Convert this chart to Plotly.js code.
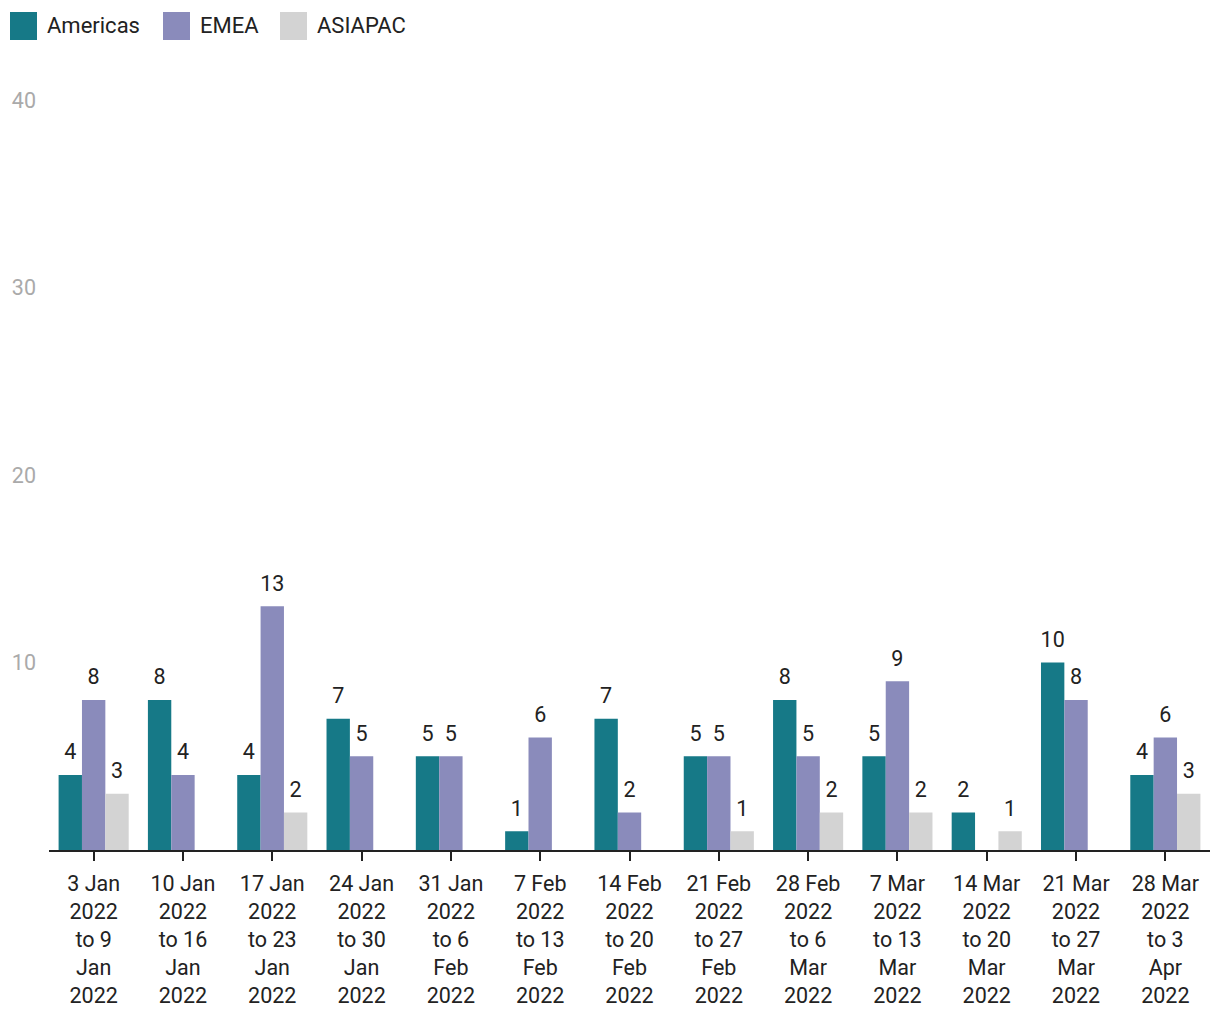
<!DOCTYPE html>
<html>
<head>
<meta charset="utf-8">
<script src="https://cdn.plot.ly/plotly-3.0.1.min.js"></script>
<style>html,body{margin:0;padding:0;background:#fff;}#chart{width:1220px;height:1020px;}</style>
</head>
<body>
<div id="chart"></div>
<script>
const categories = [
  "3 Jan<br>2022<br>to 9<br>Jan<br>2022",
  "10 Jan<br>2022<br>to 16<br>Jan<br>2022",
  "17 Jan<br>2022<br>to 23<br>Jan<br>2022",
  "24 Jan<br>2022<br>to 30<br>Jan<br>2022",
  "31 Jan<br>2022<br>to 6<br>Feb<br>2022",
  "7 Feb<br>2022<br>to 13<br>Feb<br>2022",
  "14 Feb<br>2022<br>to 20<br>Feb<br>2022",
  "21 Feb<br>2022<br>to 27<br>Feb<br>2022",
  "28 Feb<br>2022<br>to 6<br>Mar<br>2022",
  "7 Mar<br>2022<br>to 13<br>Mar<br>2022",
  "14 Mar<br>2022<br>to 20<br>Mar<br>2022",
  "21 Mar<br>2022<br>to 27<br>Mar<br>2022",
  "28 Mar<br>2022<br>to 3<br>Apr<br>2022"
];
const seriesNames = ["Americas", "EMEA", "ASIAPAC"];
const americas = [4, 8, 4, 7, 5, 1, 7, 5, 8, 5, 2, 10, 4];
const emea = [8, 4, 13, 5, 5, 6, 2, 5, 5, 9, null, 8, 6];
const asiapac = [3, null, 2, null, null, null, null, 1, 2, 2, 1, null, 3];
const colors = ["#167987", "#8a8bbb", "#d3d3d3"];
const yTicks = [10, 20, 30, 40];

const FONT = "Roboto, 'Noto Sans', sans-serif";
const FS = 21.5;
const values = [americas, emea, asiapac];
const barTraces = values.map((v, i) => ({
  type: "bar",
  name: seriesNames[i],
  x: categories,
  y: v,
  marker: {color: colors[i], line: {width: 0}},
  hoverinfo: "skip",
  showlegend: false
}));
// value labels: grouped text points sitting on the bar tops
const labelTraces = values.map((v, i) => ({
  type: "scatter",
  mode: "markers+text",
  orientation: "v",
  offsetgroup: "lab" + i,
  alignmentgroup: "labels",
  name: seriesNames[i] + " labels",
  x: categories,
  y: v,
  text: v.map(d => d == null ? "" : String(d)),
  textposition: "top center",
  textfont: {family: FONT, size: FS, color: "#222"},
  marker: {size: 15, opacity: 0},
  cliponaxis: false,
  hoverinfo: "skip",
  showlegend: false
}));

// custom legend geometry (pixels) -> paper coords
const L = 49, W = 1220 - 49 - 10, T = 100, H = 1020 - 100 - 170;
const px = p => (p - L) / W;
const py = p => 1 - (p - T) / H;
const legendX = [10, 163, 280];
const shapes = [], annotations = [];
seriesNames.forEach((n, i) => {
  shapes.push({type: "rect", xref: "paper", yref: "paper",
    x0: px(legendX[i]), x1: px(legendX[i] + 27), y0: py(40), y1: py(12),
    fillcolor: colors[i], line: {width: 0}});
  annotations.push({xref: "paper", yref: "paper", x: px(legendX[i] + 35), y: py(26),
    xanchor: "left", yanchor: "middle", showarrow: false, text: n,
    font: {family: FONT, size: 22, color: "#222"}});
});

const layout = {
  width: 1220, height: 1020,
  margin: {l: L, r: 10, t: T, b: 170},
  paper_bgcolor: "#fff", plot_bgcolor: "#fff",
  barmode: "group", bargap: 0.215, bargroupgap: 0,
  scattermode: "group", scattergap: 0.215,
  showlegend: false,
  font: {family: FONT, size: FS, color: "#222"},
  xaxis: {
    type: "category", showgrid: false, zeroline: false,
    showline: true, linecolor: "#222", linewidth: 2,
    ticks: "outside", ticklen: 9, tickwidth: 2, tickcolor: "#222",
    ticklabelstandoff: 4,
    tickfont: {family: FONT, size: FS, color: "#222"}, tickangle: 0
  },
  yaxis: {
    range: [0, 40], showgrid: false, zeroline: false, showline: false,
    tickvals: yTicks, ticks: "", ticklabelstandoff: 12,
    tickfont: {family: FONT, size: FS, color: "#aaaaaa"}
  },
  shapes: shapes,
  annotations: annotations
};

Plotly.newPlot("chart", barTraces.concat(labelTraces), layout, {displayModeBar: false, staticPlot: true});
</script>
</body>
</html>
